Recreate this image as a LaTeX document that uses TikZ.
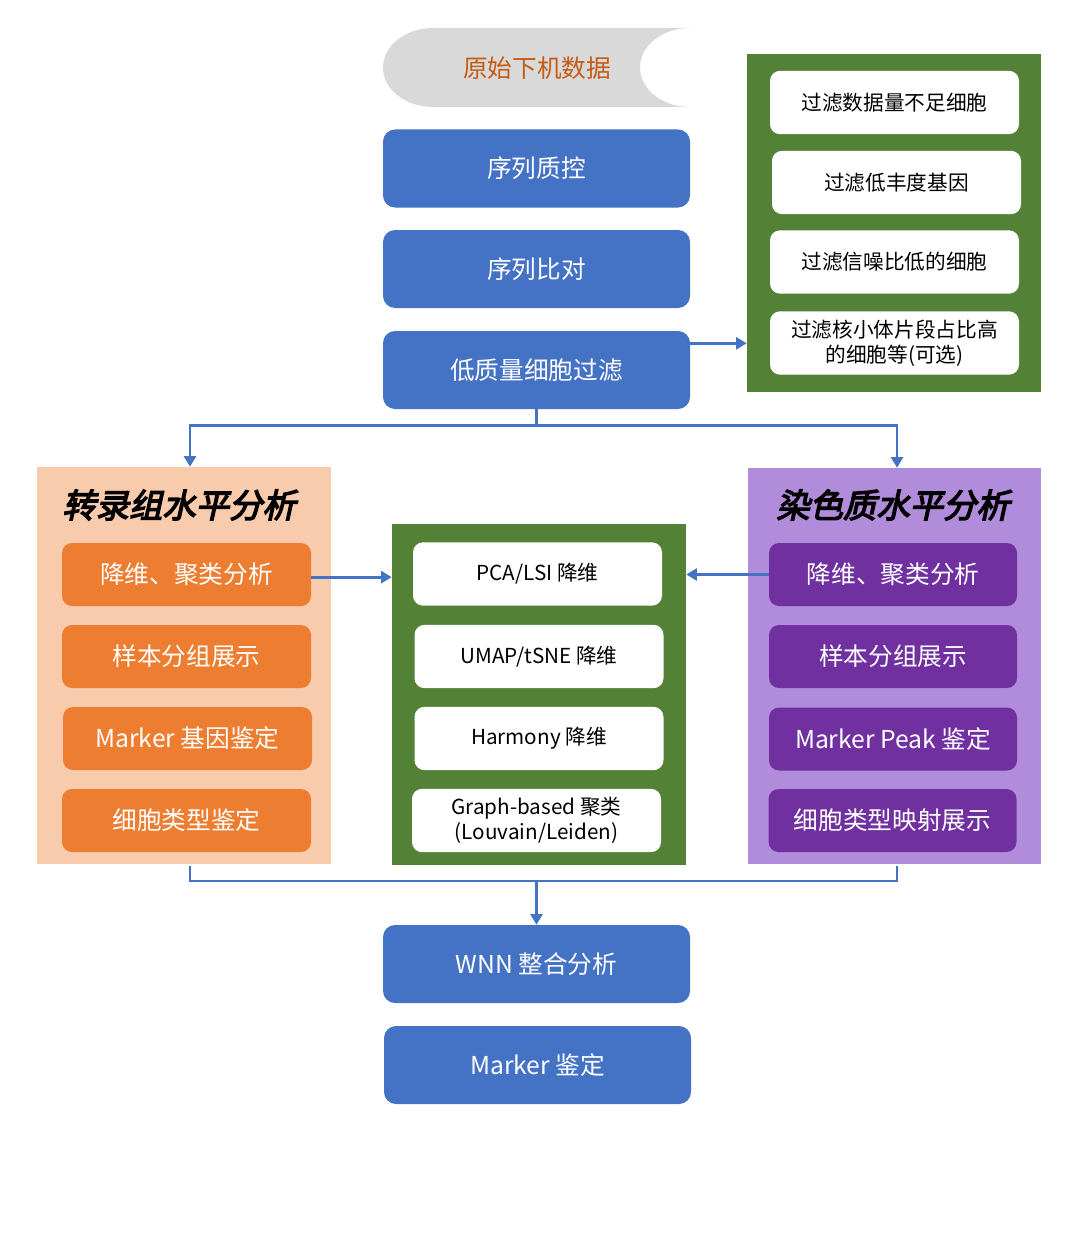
\documentclass[tikz,border=0pt]{standalone}
\usepackage{fontspec}
\setmainfont{Noto Sans CJK SC}
\newfontfamily\ttlfont{Noto Sans CJK SC}[FakeSlant=0.22,FakeBold=4]
\usetikzlibrary{arrows.meta}
\definecolor{bluec}{HTML}{4472C4}
\definecolor{greenc}{HTML}{538135}
\definecolor{peachc}{HTML}{F8CBAD}
\definecolor{orangec}{HTML}{ED7D31}
\definecolor{lilacc}{HTML}{B18CDA}
\definecolor{purplec}{HTML}{7030A0}
\definecolor{grayc}{HTML}{D9D9D9}
\definecolor{rawtext}{HTML}{C55A11}
\tikzset{
  bluebox/.style={fill=bluec, rounded corners=9pt, text=white, align=center,
    minimum width=230.25pt, minimum height=58.5pt, inner sep=0pt,
    font=\fontsize{18.5}{22}\selectfont},
  whitebox/.style={fill=white, rounded corners=7.5pt, text=black, align=center,
    minimum width=186.75pt, minimum height=47.5pt, inner sep=0pt,
    font=\fontsize{15.5}{18.5}\selectfont},
  orangebox/.style={fill=orangec, rounded corners=7.5pt, text=white, align=center,
    minimum width=186.75pt, minimum height=47.25pt, inner sep=0pt,
    font=\fontsize{18.5}{22}\selectfont},
  purplebox/.style={fill=purplec, rounded corners=7.5pt, text=white, align=center,
    minimum width=186pt, minimum height=47.25pt, inner sep=0pt,
    font=\fontsize{18.5}{22}\selectfont},
  panel/.style={inner sep=0pt, minimum width=220.5pt},
  paneltitle/.style={font=\ttlfont\fontsize{25}{29}\selectfont, text=black},
  conn/.style={draw=bluec, line width=2pt},
  arr/.style={conn, -{Triangle[length=8pt,width=9pt]}},
}
\begin{document}
\begin{tikzpicture}[x=0.75pt,y=-0.75pt]
\useasboundingbox (0,0) rectangle (1072,1234);

% raw data: stored-data shape (convex left, concave right)
\fill[grayc] (433,28) -- (690,28)
  .. controls (662.4,28) and (640,45.7) .. (640,67.5)
  .. controls (640,89.3) and (662.4,107) .. (690,107)
  -- (433,107)
  .. controls (405.4,107) and (383,89.3) .. (383,67.5)
  .. controls (383,45.7) and (405.4,28) .. (433,28) -- cycle;
\node[text=rawtext, font=\fontsize{18.5}{22}\selectfont] (raw) at (537,68) {原始下机数据};

% main pipeline
\node[bluebox] (qc)  at (536.5,168.5) {序列质控};
\node[bluebox] (aln) at (536.5,269) {序列比对};
\node[bluebox] (low) at (536.5,370) {低质量细胞过滤};

% filtering criteria
\node[panel, fill=greenc, minimum height=253.5pt] (g1) at (894,223) {};
\node[whitebox] (f1) at (894.5,102.5) {过滤数据量不足细胞};
\node[whitebox] (f2) at (896.5,182.5) {过滤低丰度基因};
\node[whitebox] (f3) at (894.5,262) {过滤信噪比低的细胞};
\node[whitebox] (f4) at (894.5,343) {过滤核小体片段占比高\\的细胞等(可选)};

% transcriptome branch
\node[panel, fill=peachc, minimum height=297.75pt] (lp) at (184,665.5) {};
\node[paneltitle] (lt) at (179,505) {转录组水平分析};
\node[orangebox] (o1) at (186.5,574.5) {降维、聚类分析};
\node[orangebox] (o2) at (186.5,656.5) {样本分组展示};
\node[orangebox] (o3) at (187.5,738.5) {Marker 基因鉴定};
\node[orangebox] (o4) at (186.5,820.5) {细胞类型鉴定};

% shared methods
\node[panel, fill=greenc, minimum height=255.75pt] (mg) at (539,694.5) {};
\node[whitebox] (m1) at (537.5,574) {PCA/LSI 降维};
\node[whitebox] (m2) at (539,656.5) {UMAP/tSNE 降维};
\node[whitebox] (m3) at (539,738.5) {Harmony 降维};
\node[whitebox] (m4) at (536.5,820.5) {Graph-based 聚类\\(Louvain/Leiden)};

% chromatin branch
\node[panel, fill=lilacc, minimum width=219.75pt, minimum height=297pt] (rp) at (894.5,666) {};
\node[paneltitle] (rt) at (893,505) {染色质水平分析};
\node[purplebox] (p1) at (893,574.5) {降维、聚类分析};
\node[purplebox] (p2) at (893,656.5) {样本分组展示};
\node[purplebox] (p3) at (893,739) {Marker Peak 鉴定};
\node[purplebox] (p4) at (892.5,820.5) {细胞类型映射展示};

% integration
\node[bluebox] (wnn) at (536.5,964) {WNN 整合分析};
\node[bluebox] (mk)  at (537.5,1065) {Marker 鉴定};

% connectors
\draw[arr] ([yshift=20pt]low.east) -- ([yshift=20pt]low.east -| g1.west);
\draw[conn] (low.south) -- ++(0,16) coordinate (split);
\draw[arr] (split) -| ([xshift=4.5pt]lp.north);
\draw[arr] (split) -| ([xshift=1.9pt]rp.north);
\draw[arr] ([yshift=-2pt]o1.east) -- ([yshift=-2pt]o1.east -| mg.west);
\draw[arr] (p1.west) -- (p1.west -| mg.east);
\coordinate (bl) at (190,866);
\coordinate (br) at (897,866);
\draw[conn] (bl) -- ++(0,15) coordinate (bb) -| (br);
\draw[arr] (bb -| wnn.north) -- (wnn.north);
\end{tikzpicture}
\end{document}
